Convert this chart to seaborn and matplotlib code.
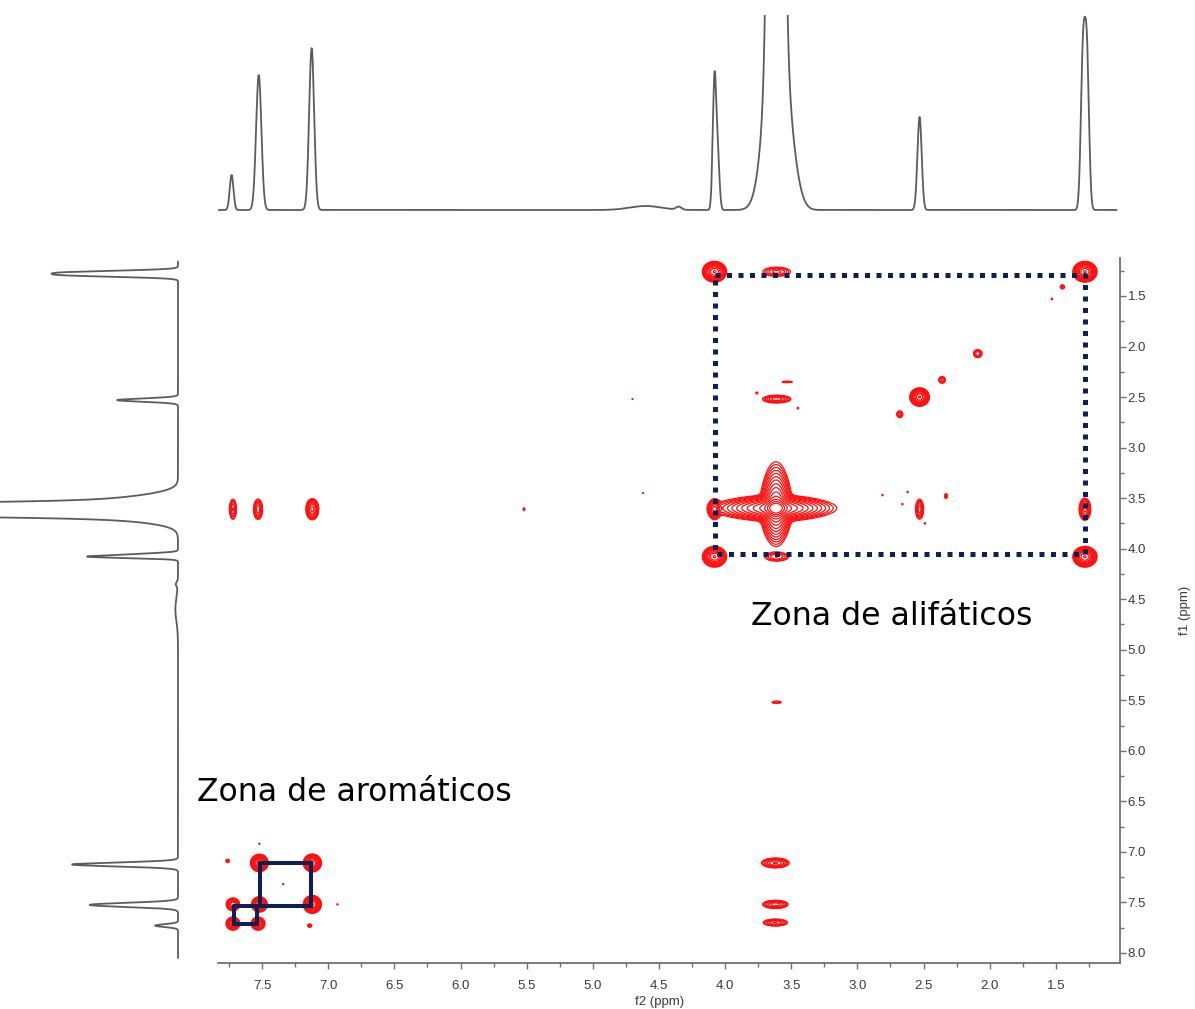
import numpy as np
import pandas as pd
import matplotlib
matplotlib.use("Agg")
import matplotlib.pyplot as plt
from matplotlib.ticker import MultipleLocator, FormatStrFormatter
import seaborn as sns

# ---------------- 1H projection (used for both f2 and f1 traces) ----------------
proj_ppm    = [7.73, 7.525, 7.125, 4.08, 4.055, 3.615, 3.615, 3.50, 2.53, 1.295, 1.265, 4.60, 4.35]
proj_height = [35, 135, 162, 130, 50, 2000, 230, 25, 93, 150, 150, 4, 3]
proj_sigma  = [0.014, 0.020, 0.019, 0.013, 0.013, 0.033, 0.075, 0.060, 0.016, 0.016, 0.016, 0.12, 0.02]

# ---------------- COSY peaks: f2, f1 (ppm), amplitude, widths (ppm) ----------------
cosy_f2  = [4.08, 3.61, 1.28, 1.45, 1.53, 2.09, 2.36, 2.53, 2.68, 3.61, 3.53, 3.76, 3.45,
            4.08, 2.53, 1.28, 2.33, 2.81, 2.62, 2.66, 2.49,
            4.08, 3.61, 1.28,
            7.72, 7.53, 7.12, 5.52, 4.70, 4.62, 3.61,
            3.62, 3.62, 3.62,
            7.12, 7.52, 7.52, 7.12, 7.72, 7.72, 7.53,
            7.76, 7.14, 7.52, 7.34, 6.93]
cosy_f1  = [1.26, 1.26, 1.26, 1.41, 1.53, 2.07, 2.33, 2.50, 2.67, 2.52, 2.35, 2.46, 2.61,
            3.61, 3.61, 3.61, 3.48, 3.47, 3.44, 3.56, 3.75,
            4.08, 4.08, 4.08,
            3.61, 3.61, 3.61, 3.61, 2.52, 3.45, 5.52,
            7.11, 7.52, 7.70,
            7.11, 7.11, 7.52, 7.52, 7.52, 7.71, 7.71,
            7.09, 7.73, 6.92, 7.32, 7.52]
cosy_amp = [60, 6, 60, 2.5, 1.3, 5, 4, 60, 4, 10, 1.6, 1.6, 1.3,
            20, 10, 20, 2.5, 1.3, 1.3, 1.3, 1.3,
            60, 5, 60,
            8, 10, 20, 1.6, 1.2, 1.2, 2,
            12, 10, 8,
            60, 50, 40, 60, 25, 30, 30,
            2.5, 2.5, 1.3, 1.3, 1.3]
cosy_sx  = [0.032, 0.055, 0.032, 0.012, 0.007, 0.018, 0.015, 0.026, 0.014, 0.050, 0.040, 0.008, 0.007,
            0.020, 0.014, 0.018, 0.008, 0.007, 0.007, 0.007, 0.007,
            0.032, 0.050, 0.032,
            0.013, 0.016, 0.020, 0.007, 0.007, 0.007, 0.030,
            0.047, 0.045, 0.045,
            0.024, 0.024, 0.022, 0.024, 0.020, 0.020, 0.020,
            0.010, 0.012, 0.007, 0.007, 0.007]
cosy_sy  = [0.036, 0.024, 0.036, 0.015, 0.012, 0.022, 0.020, 0.032, 0.020, 0.018, 0.008, 0.010, 0.012,
            0.042, 0.046, 0.045, 0.018, 0.010, 0.010, 0.010, 0.010,
            0.036, 0.024, 0.036,
            0.049, 0.047, 0.043, 0.015, 0.008, 0.008, 0.010,
            0.022, 0.019, 0.017,
            0.031, 0.031, 0.028, 0.031, 0.025, 0.025, 0.025,
            0.012, 0.012, 0.008, 0.008, 0.008]

# intense peak at 3.6 ppm with its t1/t2 ridges
big_f2, big_f1, big_amp, big_sigma = 3.615, 3.60, 200, 0.03
ridge_amp = 100
ridge_shape = 1.5
ridge_h_width, ridge_h_decay_hi, ridge_h_decay_lo = 0.045, 0.177, 0.166
ridge_v_width, ridge_v_decay_hi, ridge_v_decay_lo = 0.042, 0.137, 0.166

# highlighted regions
aliph_box_f2 = [4.08, 1.28]
aliph_box_f1 = [1.29, 4.05]
arom_big_f2 = [7.515, 7.13]
arom_big_f1 = [7.11, 7.535]
arom_small_f2 = [7.71, 7.535]
arom_small_f1 = [7.535, 7.71]

XLIM = (7.833, 1.015)
YLIM = (8.10, 1.124)

# ---------------- style ----------------
sns.set_style("white")
plt.rcParams["font.family"] = ["Liberation Sans", "DejaVu Sans"]

W, H = 1195, 1009
fig = plt.figure(figsize=(W / 100, H / 100), dpi=100)

def px_axes(x0, y0, x1, y1):
    return fig.add_axes([x0 / W, 1 - y1 / H, (x1 - x0) / W, (y1 - y0) / H])

ax = px_axes(218, 258, 1120, 963)
ax_top = px_axes(218, 15, 1120, 220)
ax_left = px_axes(0, 258, 185, 963)

# ---------------- 1D traces ----------------
def projection(ppm):
    out = np.zeros_like(ppm)
    for c, h, s in zip(proj_ppm, proj_height, proj_sigma):
        out += h * np.exp(-0.5 * ((ppm - c) / s) ** 2)
    return out

trace_col = "#5c5c5c"
ppm_top = np.linspace(1.04, 7.83, 3000)
df_top = pd.DataFrame({"ppm": ppm_top, "I": projection(ppm_top)})
sns.lineplot(data=df_top, x="ppm", y="I", ax=ax_top, color=trace_col, lw=1.3, estimator=None)
ax_top.set_xlim(*XLIM)
ax_top.set_ylim(-10, 195)
ax_top.axis("off")

ppm_left = np.linspace(1.16, 8.05, 3000)
df_left = pd.DataFrame({"ppm": ppm_left, "I": projection(ppm_left)})
sns.lineplot(data=df_left, x="I", y="ppm", orient="y", ax=ax_left, color=trace_col, lw=1.3,
             estimator=None)
ax_left.set_xlim(272, -10.7)
ax_left.set_ylim(*YLIM)
ax_left.axis("off")

# ---------------- 2D COSY map ----------------
f2 = np.linspace(XLIM[1], XLIM[0], 2000)
f1 = np.linspace(YLIM[1], YLIM[0], 2000)
Z = np.zeros((f1.size, f2.size))
for x0, y0, a, sx, sy in zip(cosy_f2, cosy_f1, cosy_amp, cosy_sx, cosy_sy):
    gx = np.exp(-0.5 * ((f2 - x0) / sx) ** 2)
    gy = np.exp(-0.5 * ((f1 - y0) / sy) ** 2)
    Z += a * np.outer(gy, gx)

gx = np.exp(-0.5 * ((f2 - big_f2) / big_sigma) ** 2)
gy = np.exp(-0.5 * ((f1 - big_f1) / big_sigma) ** 2)
Z += big_amp * np.outer(gy, gx)
# horizontal (t2) ridge
dx = f2 - big_f2
ex = np.exp(-(np.abs(dx) / np.where(dx > 0, ridge_h_decay_hi, ridge_h_decay_lo)) ** ridge_shape)
gy = np.exp(-0.5 * ((f1 - big_f1) / ridge_h_width) ** 2)
Z += ridge_amp * np.outer(gy, ex)
# vertical (t1) ridge
dy = f1 - big_f1
ey = np.exp(-(np.abs(dy) / np.where(dy > 0, ridge_v_decay_hi, ridge_v_decay_lo)) ** ridge_shape)
gx = np.exp(-0.5 * ((f2 - big_f2) / ridge_v_width) ** 2)
Z += ridge_amp * np.outer(ey, gx)

levels = 1.5 ** np.arange(14)
ax.contour(f2, f1, Z, levels=levels, colors="#ff1010", linewidths=0.9)

# ---------------- highlighted regions ----------------
navy = "#0c2052"
bx = [aliph_box_f2[0], aliph_box_f2[1], aliph_box_f2[1], aliph_box_f2[0], aliph_box_f2[0]]
by = [aliph_box_f1[0], aliph_box_f1[0], aliph_box_f1[1], aliph_box_f1[1], aliph_box_f1[0]]
ax.plot(bx, by, color=navy, lw=3.6, linestyle=(0, (1.0, 1.3)), solid_capstyle="butt",
        dash_capstyle="butt")
for bf2, bf1 in [(arom_big_f2, arom_big_f1), (arom_small_f2, arom_small_f1)]:
    ax.plot([bf2[0], bf2[1], bf2[1], bf2[0], bf2[0]],
            [bf1[0], bf1[0], bf1[1], bf1[1], bf1[0]],
            color=navy, lw=2.9, solid_joinstyle="miter")

ax.set_xlim(*XLIM)
ax.set_ylim(*YLIM)

# ---------------- axes ----------------
spine_col = "#707070"
for s in ["top", "left"]:
    ax.spines[s].set_visible(False)
for s in ["bottom", "right"]:
    ax.spines[s].set_visible(True)
    ax.spines[s].set_color(spine_col)
    ax.spines[s].set_linewidth(1.3)
ax.xaxis.set_major_locator(MultipleLocator(0.5))
ax.xaxis.set_minor_locator(MultipleLocator(0.25))
ax.yaxis.set_major_locator(MultipleLocator(0.5))
ax.yaxis.set_minor_locator(MultipleLocator(0.25))
ax.xaxis.set_major_formatter(FormatStrFormatter("%.1f"))
ax.yaxis.set_major_formatter(FormatStrFormatter("%.1f"))
ax.tick_params(axis="both", which="both", direction="out", color=spine_col, width=1.0,
               labelsize=9.5, labelcolor="#3a3a3a",
               bottom=True, top=False, left=False, right=True,
               labelbottom=True, labelleft=False, labelright=True)
ax.tick_params(which="major", length=4.5, pad=8)
ax.tick_params(axis="y", which="major", pad=1)
ax.tick_params(which="minor", length=3)
ax.set_xlabel("")
ax.set_ylabel("")

fig.text(660 / W, 1 - 1002 / H, "f2 (ppm)", ha="center", va="center", fontsize=9.5,
         color="#3a3a3a")
fig.text(1185 / W, 1 - 610 / H, "f1 (ppm)", ha="center", va="center", rotation=90,
         fontsize=9.5, color="#3a3a3a")

fig.text(751 / W, 1 - 625 / H, "Zona de alifáticos", ha="left", va="baseline",
         fontsize=22.7, family="DejaVu Sans", color="black")
fig.text(197 / W, 1 - 801 / H, "Zona de aromáticos", ha="left", va="baseline",
         fontsize=22.7, family="DejaVu Sans", color="black")

fig.savefig("out.png", dpi=100)
